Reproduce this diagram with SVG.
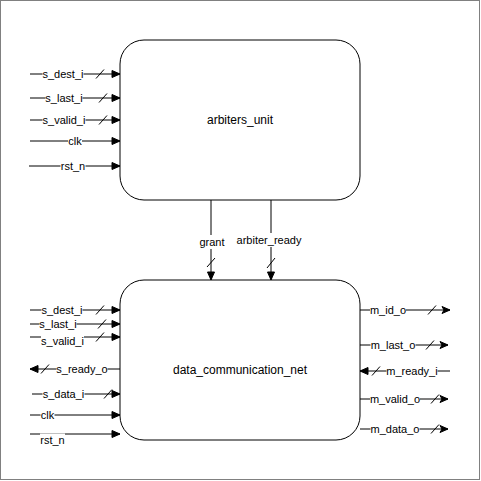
<svg xmlns="http://www.w3.org/2000/svg" width="481" height="481" viewBox="0 0 481 481">
<style>
.frame{fill:#ffffff;stroke:#808080;stroke-width:1}
.box{fill:#ffffff;stroke:#000000;stroke-width:1}
.ln{fill:none;stroke:#000000;stroke-width:1}
.blk{marker-end:url(#block)}
.cls{marker-end:url(#classic)}
.sl{fill:none;stroke:#000000;stroke-width:1}
.bg{fill:#ffffff}
.lb{font-family:"Liberation Sans",Arial,sans-serif;font-size:11px;fill:#000000;text-anchor:middle}
.nl{font-family:"Liberation Sans",Arial,sans-serif;font-size:12px;fill:#000000;text-anchor:middle}
</style>
<defs>
<marker id="block" markerUnits="userSpaceOnUse" markerWidth="9" markerHeight="8" refX="8" refY="3.5" orient="auto" overflow="visible">
<path d="M0,0 L8,3.5 L0,7 Z" fill="#000000" stroke="#000000" stroke-width="1"/>
</marker>
<marker id="classic" markerUnits="userSpaceOnUse" markerWidth="9" markerHeight="8" refX="8" refY="3.5" orient="auto" overflow="visible">
<path d="M0,0 L8,3.5 L0,7 L2,3.5 Z" fill="#000000" stroke="#000000" stroke-width="1"/>
</marker>
</defs>
<rect class="frame" x="0.5" y="0.5" width="479" height="479"/>

<g id="arbiters_unit">
<rect class="box" x="120" y="40" width="240" height="160" rx="24" ry="24"/>
<text class="nl" x="240" y="124">arbiters_unit</text>
</g>

<g id="data_communication_net">
<rect class="box" x="120" y="280" width="240" height="160" rx="24" ry="24"/>
<text class="nl" x="240" y="374">data_communication_net</text>
</g>

<g id="connectors">
<!-- top box inputs -->
<path class="ln blk" d="M30,74 L120,74"/>
<path class="sl" d="M96,78.5 L104,69.5"/>
<rect class="bg" x="42.5" y="67" width="41" height="14"/>
<text class="lb" x="63" y="78">s_dest_i</text>

<path class="ln blk" d="M30,98 L120,98"/>
<path class="sl" d="M99,102.5 L107,93.5"/>
<rect class="bg" x="45.5" y="91" width="37" height="14"/>
<text class="lb" x="64" y="102">s_last_i</text>

<path class="ln blk" d="M30,120 L120,120"/>
<path class="sl" d="M99,124.5 L107,115.5"/>
<rect class="bg" x="42.5" y="113" width="43" height="14"/>
<text class="lb" x="64" y="124">s_valid_i</text>

<path class="ln blk" d="M30,141 L120,141"/>
<rect class="bg" x="68" y="134" width="14" height="14"/>
<text class="lb" x="75" y="145">clk</text>

<path class="ln blk" d="M29,166 L120,166"/>
<rect class="bg" x="60.5" y="159" width="25" height="14"/>
<text class="lb" x="73" y="170">rst_n</text>

<!-- vertical -->
<path class="ln blk" d="M211,200 L211,280"/>
<path class="sl" d="M207,267 L215,258"/>
<rect class="bg" x="199.5" y="235" width="25" height="14"/>
<text class="lb" x="212" y="246">grant</text>

<path class="ln blk" d="M271,200 L271,280"/>
<path class="sl" d="M267,268 L275,258"/>
<rect class="bg" x="237" y="233" width="64" height="14"/>
<text class="lb" x="269" y="244">arbiter_ready</text>

<!-- bottom box left -->
<path class="ln blk" d="M30,310 L120,310"/>
<path class="sl" d="M96,314.5 L104,305.5"/>
<rect class="bg" x="41.5" y="303" width="41" height="14"/>
<text class="lb" x="62" y="314">s_dest_i</text>

<path class="ln blk" d="M30,324 L120,324"/>
<path class="sl" d="M98,328.5 L106,319.5"/>
<rect class="bg" x="39.5" y="317" width="37" height="14"/>
<text class="lb" x="58" y="328">s_last_i</text>

<path class="ln blk" d="M30,337 L120,337"/>
<path class="sl" d="M96,341.5 L104,332.5"/>
<rect class="bg" x="41" y="334" width="43" height="14"/>
<text class="lb" x="62.5" y="345">s_valid_i</text>

<path class="ln blk" d="M120,369 L30,369"/>
<path class="sl" d="M41,373.5 L49,364.5"/>
<rect class="bg" x="56.5" y="362" width="51" height="14"/>
<text class="lb" x="82" y="373">s_ready_o</text>

<path class="ln blk" d="M32,394 L120,394"/>
<path class="sl" d="M104,398.5 L112,389.5"/>
<rect class="bg" x="42.5" y="387" width="42" height="14"/>
<text class="lb" x="63.5" y="398">s_data_i</text>

<path class="ln blk" d="M30,415 L120,415"/>
<rect class="bg" x="40.5" y="408" width="14" height="14"/>
<text class="lb" x="47.5" y="419">clk</text>

<path class="ln blk" d="M30,434 L120,434"/>
<rect class="bg" x="40" y="433.5" width="25" height="14"/>
<text class="lb" x="52.5" y="444">rst_n</text>

<!-- bottom box right -->
<path class="ln cls" d="M360,310 L450,310"/>
<path class="sl" d="M428,314.5 L436,305.5"/>
<rect class="bg" x="370" y="303" width="36" height="14"/>
<text class="lb" x="388" y="314">m_id_o</text>

<path class="ln cls" d="M360,345 L448,345"/>
<path class="sl" d="M426,349.5 L434,340.5"/>
<rect class="bg" x="370.5" y="338" width="45" height="14"/>
<text class="lb" x="393" y="349">m_last_o</text>

<path class="ln blk" d="M450,371 L360,371"/>
<path class="sl" d="M372,375.5 L380,366.5"/>
<rect class="bg" x="386.5" y="364" width="51" height="14"/>
<text class="lb" x="412" y="375">m_ready_i</text>

<path class="ln cls" d="M360,399 L448,399"/>
<path class="sl" d="M431,403.5 L439,394.5"/>
<rect class="bg" x="370" y="392" width="50" height="14"/>
<text class="lb" x="395" y="403">m_valid_o</text>

<path class="ln cls" d="M360,429 L448,429"/>
<path class="sl" d="M431,433.5 L439,424.5"/>
<rect class="bg" x="370.5" y="422" width="49" height="14"/>
<text class="lb" x="395" y="433">m_data_o</text>
</g>
</svg>
